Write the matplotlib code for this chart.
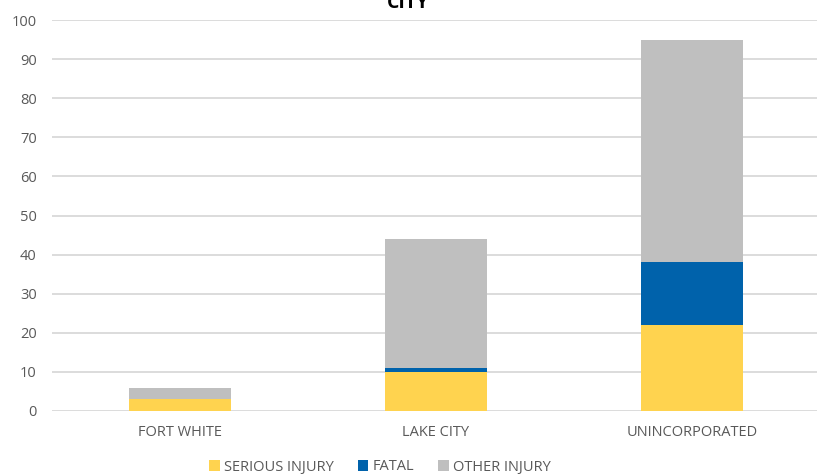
import matplotlib
matplotlib.use("Agg")
import matplotlib.pyplot as plt
import numpy as np

categories = ["FORT WHITE", "LAKE CITY", "UNINCORPORATED"]
serious = [3, 10, 22]
fatal = [0, 1, 16]
other = [3, 33, 57]
yticks = list(range(0, 101, 10))

plt.rcParams['font.family'] = ['Open Sans', 'DejaVu Sans']
txt = '#595959'
c_serious = '#FFD34F'
c_fatal = '#0062AB'
c_other = '#BFBFBF'

fig = plt.figure(figsize=(8.17, 4.76), dpi=100)
ax = fig.add_axes([52/817, (476-411)/476, (817-52)/817, (411-20)/476])

x = np.arange(len(categories))
w = 0.40
s = np.array(serious); f = np.array(fatal); o = np.array(other)
ax.bar(x, s, w, color=c_serious, label='SERIOUS INJURY', zorder=3)
ax.bar(x, f, w, bottom=s, color=c_fatal, label='FATAL', zorder=3)
ax.bar(x, o, w, bottom=s+f, color=c_other, label='OTHER INJURY', zorder=3)

ax.set_xlim(-0.5, -0.5 + (817-52)/256)
ax.set_ylim(0, 100)
ax.set_yticks(yticks)
ax.grid(axis='y', color='#D9D9D9', linewidth=1.3, zorder=0)
for sp in ax.spines.values():
    sp.set_visible(False)
ax.tick_params(axis='both', length=0, labelsize=10.5, colors=txt)
ax.tick_params(axis='y', pad=11)
ax.tick_params(axis='x', pad=10)
ax.set_xticks(x)
ax.set_xticklabels(categories)

fig.text(0.5, 1 - 8/476, 'CITY', ha='center', va='baseline', fontsize=14,
         fontweight='bold', color='#000000')

leg = fig.legend(loc='center', bbox_to_anchor=(380/817, 1 - 467/476), ncol=3,
                 frameon=False, fontsize=10.5, handlelength=0.75, handleheight=0.75,
                 handletextpad=0.3, columnspacing=1.6, borderaxespad=0)
for t in leg.get_texts():
    t.set_color(txt)

fig.savefig('out.png', dpi=100)
